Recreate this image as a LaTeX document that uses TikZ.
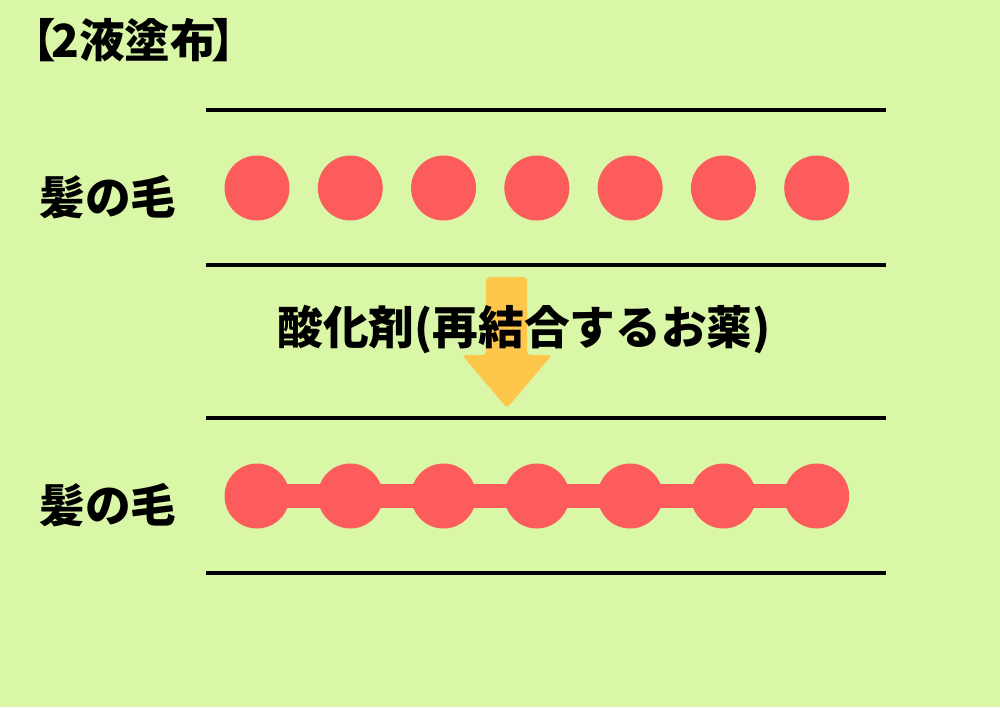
\documentclass[tikz,border=0pt]{standalone}
\usepackage{fontspec}
\setmainfont{Noto Sans CJK JP}
\usepackage{tikz}
\usetikzlibrary{positioning}
\definecolor{bgreen}{HTML}{D9F7A6}
\definecolor{hairred}{HTML}{FC5C5C}
\definecolor{agentyellow}{HTML}{FEC64A}
\tikzset{
  rule/.style     = {black, line width=2.8pt},
  hairdot/.style  = {circle, fill=hairred, minimum size=1.3cm, inner sep=0pt},
  bond/.style     = {hairred, line width=13.6pt},
  label/.style    = {font=\fontsize{26}{30}\selectfont\bfseries, inner sep=0pt},
}

\begin{document}
\begin{tikzpicture}[x=0.02cm, y=-0.02cm, node distance=1.866cm]
    \fill[bgreen] (0,0) rectangle (1000,707);
    \useasboundingbox (0,0) rectangle (1000,707);

    \node[label, anchor=west] (title) at (10,40) {【\kern-0.1em 2液塗布\kern-0.1em 】};

    % upper hair
    \draw[rule] (206,110) -- (886,110);
    \draw[rule] (206,265) -- (886,265);
    \node[label] (hairA) at (108,197) {髪の毛};
    \node[hairdot] (a1) at (257,188) {};
    \node[hairdot, right of=a1] (a2) {};
    \node[hairdot, right of=a2] (a3) {};
    \node[hairdot, right of=a3] (a4) {};
    \node[hairdot, right of=a4] (a5) {};
    \node[hairdot, right of=a5] (a6) {};
    \node[hairdot, right of=a6] (a7) {};

    % arrow
    \fill[agentyellow, rounded corners=2pt] (486,277) -- (527,277) -- (527,355)
        -- (552,355) -- (507,408) -- (462,355) -- (486,355) -- cycle;
    \node[label] (agent) at (524,330) {酸化剤(再結合するお薬)};

    % lower hair
    \draw[rule] (206,418) -- (886,418);
    \draw[rule] (206,573) -- (886,573);
    \node[label] (hairB) at (108,505) {髪の毛};
    \node[hairdot] (b1) at (257,496) {};
    \node[hairdot, right of=b1] (b2) {};
    \node[hairdot, right of=b2] (b3) {};
    \node[hairdot, right of=b3] (b4) {};
    \node[hairdot, right of=b4] (b5) {};
    \node[hairdot, right of=b5] (b6) {};
    \node[hairdot, right of=b6] (b7) {};

    \path (b1.center) edge[bond] (b2.center);
    \path (b2.center) edge[bond] (b3.center);
    \path (b3.center) edge[bond] (b4.center);
    \path (b4.center) edge[bond] (b5.center);
    \path (b5.center) edge[bond] (b6.center);
    \path (b6.center) edge[bond] (b7.center);
\end{tikzpicture}
\end{document}
